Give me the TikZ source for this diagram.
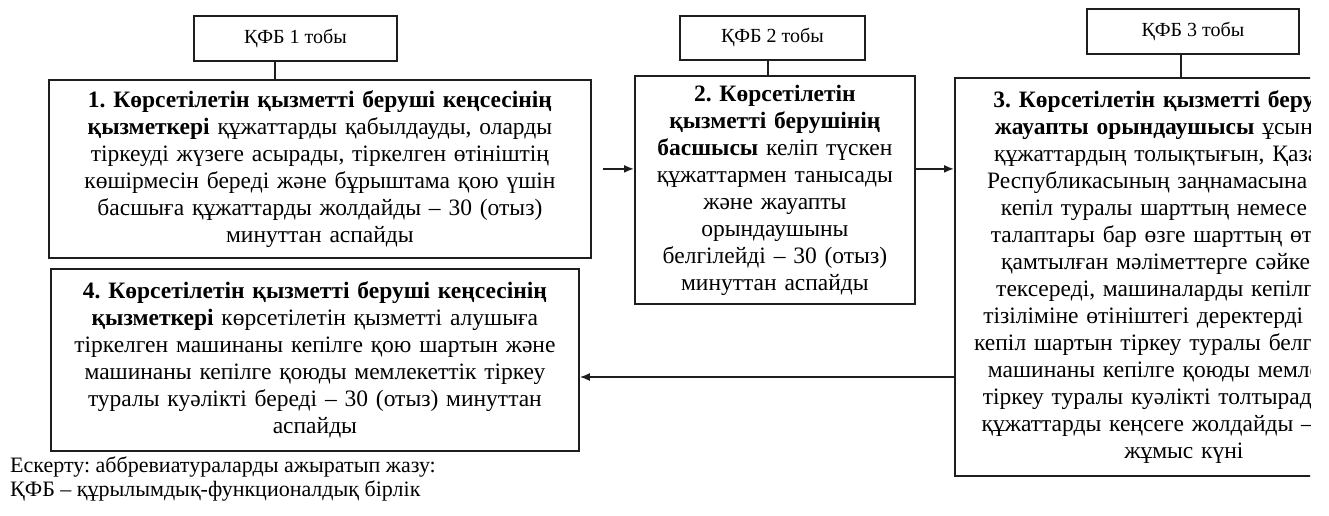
\documentclass[tikz,border=0pt]{standalone}
\usepackage{fontspec}
\setmainfont{Liberation Serif}
\usepackage{tikz}
\usetikzlibrary{positioning,arrows.meta}
\frenchspacing

\begin{document}
\begin{tikzpicture}[
  x=1pt, y=-1pt,
  font=\fontsize{23.5}{27}\selectfont,
  box/.style={draw=cLine, line width=1.8pt, anchor=north west, align=center, inner sep=0pt},
  lab/.style={draw=cLine, line width=1.8pt, anchor=north west, inner sep=0pt,
              font=\fontsize{20}{22}\selectfont},
  link/.style={draw=cLine, line width=1.6pt},
  arr/.style={draw=cLine, line width=1.6pt, -{Latex[length=10pt,width=8pt]}},
]
\definecolor{cLine}{HTML}{1E1E1E}
\useasboundingbox (0,0) rectangle (1329,516);

\node[lab, minimum width=203pt, minimum height=45pt] (l1) at (193,15) {ҚФБ 1 тобы};
\node[lab, minimum width=185pt, minimum height=44pt] (l2) at (679,15) {ҚФБ 2 тобы};
\node[lab, minimum width=212pt, minimum height=45pt] (l3) at (1086,8) {ҚФБ 3 тобы};

\node[box, minimum width=542pt, minimum height=178pt, text width=532pt] (b1) at (48,79)
  {\textbf{1. Көрсетілетін қызметті беруші кеңсесінің}\\
   \textbf{қызметкері} құжаттарды қабылдауды, оларды\\
   тіркеуді жүзеге асырады, тіркелген өтініштің\\
   көшірмесін береді және бұрыштама қою үшін\\
   басшыға құжаттарды жолдайды – 30 (отыз)\\
   минуттан аспайды};

\node[box, minimum width=280pt, minimum height=228pt, text width=270pt] (b2) at (634,75)
  {\textbf{2. Көрсетілетін}\\
   \textbf{қызметті берушінің}\\
   \textbf{басшысы} келіп түскен\\
   құжаттармен танысады\\
   және жауапты\\
   орындаушыны\\
   белгілейді – 30 (отыз)\\
   минуттан аспайды};

\begin{scope}
\clip (0,0) rectangle (1310,516);
\node[box, minimum width=458pt, minimum height=398pt, text width=448pt] (b3) at (954,77)
  {\textbf{3. Көрсетілетін қызметті берушінің}\\
   \textbf{жауапты орындаушысы} ұсынылған\\
   құжаттардың толықтығын, Қазақстан\\
   Республикасының заңнамасына сәйкес\\
   кепіл туралы шарттың немесе кепіл\\
   талаптары бар өзге шарттың өтінішке\\
   қамтылған мәліметтерге сәйкестігін\\
   тексереді, машиналарды кепілге қою\\
   тізіліміне өтініштегі деректерді енгізіп,\\
   кепіл шартын тіркеу туралы белгі қояды,\\
   машинаны кепілге қоюды мемлекеттік\\
   тіркеу туралы куәлікті толтырады және\\
   құжаттарды кеңсеге жолдайды – 1 (бір)\\
   жұмыс күні};
\end{scope}

\node[box, minimum width=528pt, minimum height=182pt, text width=518pt] (b4) at (50,268)
  {\textbf{4. Көрсетілетін қызметті беруші кеңсесінің}\\
   \textbf{қызметкері} көрсетілетін қызметті алушыға\\
   тіркелген машинаны кепілге қою шартын және\\
   машинаны кепілге қоюды мемлекеттік тіркеу\\
   туралы куәлікті береді – 30 (отыз) минуттан\\
   аспайды};

\node[anchor=north west, align=left, inner sep=0pt, font=\fontsize{22}{24}\selectfont] (note) at (10,457)
  {Ескерту: аббревиатураларды ажыратып жазу:\\
   ҚФБ – құрылымдық-функционалдық бірлік};

\coordinate (t1) at (275,0);
\coordinate (t2) at (768,0);
\coordinate (t3) at (1181,0);
\coordinate (r4) at (0,377);

\draw[link] (t1 |- l1.south) -- (t1 |- b1.north);
\draw[link] (t2 |- l2.south) -- (t2 |- b2.north);
\draw[link] (t3 |- l3.south) -- (t3 |- b3.north);

\draw[arr] ([xshift=11pt]b1.east) -- (b1.east -| b2.west);
\draw[arr] (b1.east -| b2.east) -- (b1.east -| b3.west);
\draw[arr] (r4 -| b3.west) -- (r4 -| b4.east);
\end{tikzpicture}
\end{document}
